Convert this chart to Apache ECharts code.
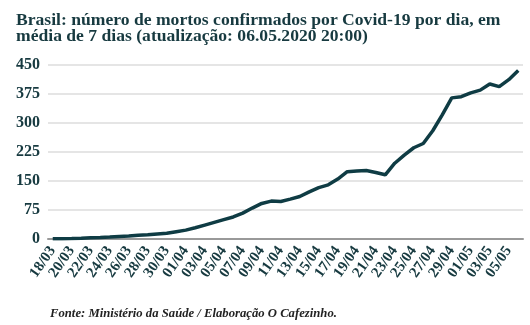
<!DOCTYPE html>
<html>
<head>
<meta charset="utf-8">
<script src="https://cdn.jsdelivr.net/npm/echarts@6/dist/echarts.min.js"></script>
<style>html,body{margin:0;padding:0;background:#fff}#c{width:530px;height:325px}</style>
</head>
<body>
<div id="c"></div>
<script>
var dates = ["18/03","19/03","20/03","21/03","22/03","23/03","24/03","25/03","26/03","27/03","28/03","29/03","30/03","31/03",
"01/04","02/04","03/04","04/04","05/04","06/04","07/04","08/04","09/04","10/04","11/04","12/04","13/04","14/04","15/04","16/04",
"17/04","18/04","19/04","20/04","21/04","22/04","23/04","24/04","25/04","26/04","27/04","28/04","29/04","30/04",
"01/05","02/05","03/05","04/05","05/05","06/05"];
var deaths = [0.4,0.6,1.3,2.1,3,3.7,4.9,6.4,7.6,9.4,11,13,15,19,
23,29,36,43,50,57,67,80,92,98,97,103,110,122,133,140,
155,174,176,177,172,166,196,217,236,247,280,321,365,368,
378,385,401,394,412,436];
var yTicks = [0,75,150,225,300,375,450];

var F = "'Liberation Serif', serif";
var C = "#173a40";
var chart = echarts.init(document.getElementById('c'));
chart.setOption({
  animation:false,
  title:{
    text:"Brasil: número de mortos confirmados por Covid-19 por dia, em\nmédia de 7 dias (atualização: 06.05.2020 20:00)",
    left:11, top:7,
    textStyle:{fontFamily:F, fontWeight:'bold', fontSize:17.6, lineHeight:16, color:C}
  },
  graphic:[{type:'text', left:50, top:307,
    style:{text:"Fonte: Ministério da Saúde / Elaboração O Cafezinho.", font:"italic bold 12.7px 'Liberation Serif'", fill:"#222"}}],
  grid:{left:48, right:7, top:65, bottom:86},
  xAxis:{type:'category', data:dates, boundaryGap:true,
    axisTick:{show:false},
    axisLine:{lineStyle:{color:'#999', width:2}},
    axisLabel:{interval:1, rotate:55, fontFamily:F, fontWeight:'bold', fontSize:15, color:C, margin:9}
  },
  yAxis:{type:'value', min:yTicks[0], max:yTicks[yTicks.length-1], interval:75,
    axisLine:{show:false}, axisTick:{show:false},
    splitLine:{lineStyle:{color:'#dcdcdc', width:1.5}},
    axisLabel:{fontFamily:F, fontWeight:'bold', fontSize:16, color:C, margin:8}
  },
  series:[{type:'line', data:deaths, symbol:'none', lineStyle:{color:'#0f3c44', width:3.5}}]
});
</script>
</body>
</html>
